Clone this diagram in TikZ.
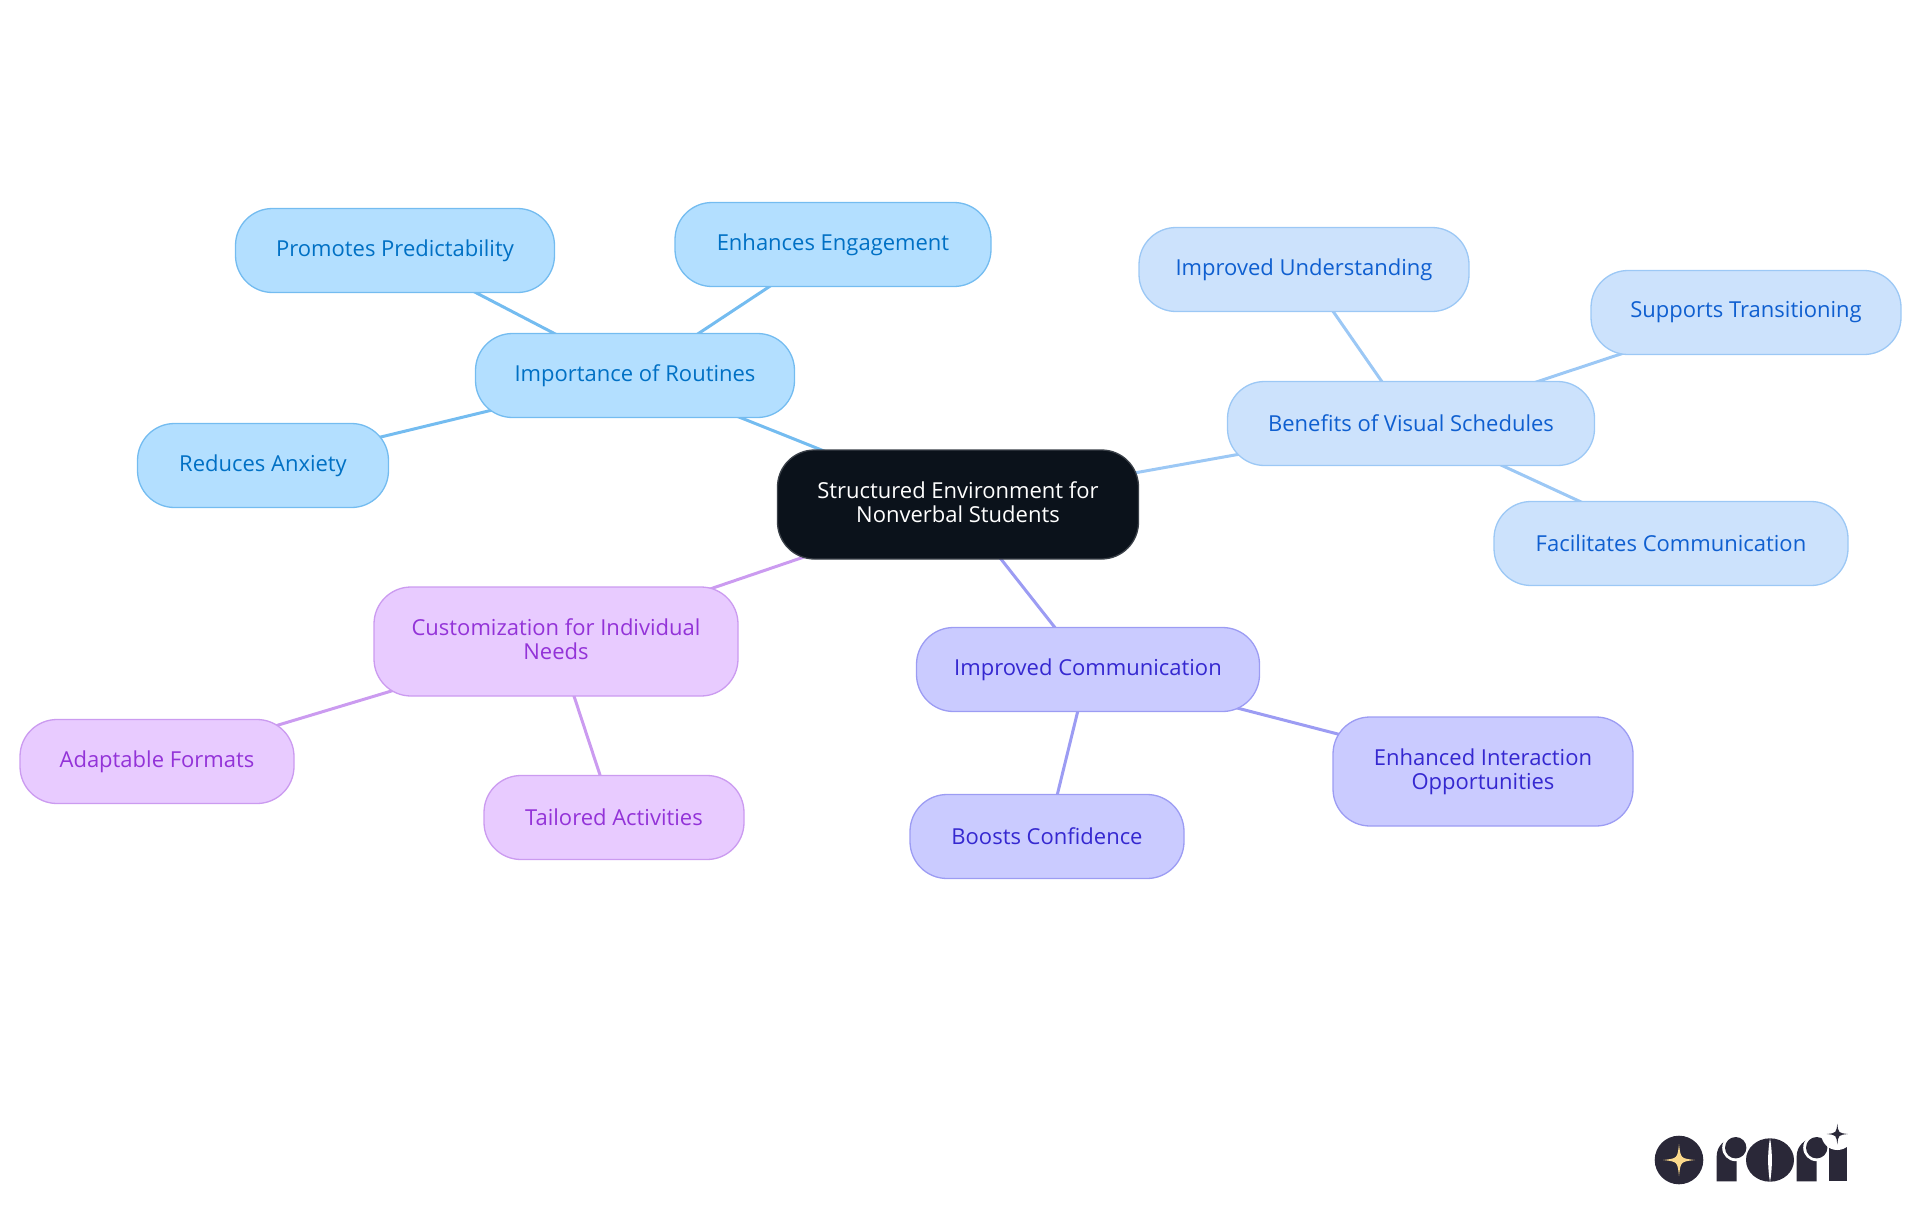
\documentclass[tikz,border=0pt]{standalone}
\usepackage{fontspec}
\setmainfont{Open Sans}
\usepackage{xcolor}
\usetikzlibrary{positioning,backgrounds}
\definecolor{rootfill}{HTML}{0B121B}
\definecolor{rootline}{HTML}{3A4048}
\definecolor{skyfill}{HTML}{B3DFFF}
\definecolor{skyline}{HTML}{74BCF0}
\definecolor{skytext}{HTML}{0070C4}
\definecolor{palefill}{HTML}{CCE2FC}
\definecolor{paleline}{HTML}{9CC8F5}
\definecolor{paletext}{HTML}{0F5FD0}
\definecolor{indigofill}{HTML}{CACBFF}
\definecolor{indigoline}{HTML}{9C9CF3}
\definecolor{indigotext}{HTML}{3528D0}
\definecolor{violetfill}{HTML}{E8CBFF}
\definecolor{violetline}{HTML}{CB9BF0}
\definecolor{violettext}{HTML}{9333D8}
\definecolor{logoink}{HTML}{2A2838}
\definecolor{logogold}{HTML}{FBD98B}
\newcommand{\logostar}[3]{%
  \fill[#3] ([shift={(0,-#2)}]#1)
    .. controls ([shift={(0.1*#2,-0.1*#2)}]#1) .. ([shift={(#2,0)}]#1)
    .. controls ([shift={(0.1*#2,0.1*#2)}]#1) .. ([shift={(0,#2)}]#1)
    .. controls ([shift={(-0.1*#2,0.1*#2)}]#1) .. ([shift={(-#2,0)}]#1)
    .. controls ([shift={(-0.1*#2,-0.1*#2)}]#1) .. cycle;}
\tikzset{
  topic/.style={rounded corners=37pt, line width=1.3pt, inner sep=0pt, minimum height=84pt, align=center, font=\fontsize{22}{24.5}\selectfont},
  tall/.style={minimum height=109pt},
  rootnode/.style={topic, tall, fill=rootfill, draw=rootline, text=white},
  sky/.style={topic, fill=skyfill, draw=skyline, text=skytext},
  pale/.style={topic, fill=palefill, draw=paleline, text=paletext},
  indigo/.style={topic, fill=indigofill, draw=indigoline, text=indigotext},
  violet/.style={topic, fill=violetfill, draw=violetline, text=violettext},
  link/.style={line width=3pt}
}
\begin{document}
\begin{tikzpicture}[x=1pt, y=-1pt]
  \useasboundingbox (0,0) rectangle (1920,1215);
  \node[rootnode, minimum width=361pt] (root) at (958,504.5) {Structured Environment for\\Nonverbal Students\\[-20pt]};
  % routines
  \node[sky, minimum width=319pt, above of=root, node distance=129pt, xshift=-323pt] (routines) {Importance of Routines};
  \node[sky, minimum width=319pt, above of=routines, node distance=125pt, xshift=-240pt] (predict) {Promotes Predictability};
  \node[sky, minimum width=316pt, above of=routines, node distance=131pt, xshift=198pt] (engage) {Enhances Engagement};
  \node[sky, minimum width=251pt, below of=routines, node distance=90pt, xshift=-372pt] (anxiety) {Reduces Anxiety};
  % schedules
  \node[pale, minimum width=367pt, above of=root, node distance=81pt, xshift=453pt] (visual) {Benefits of Visual Schedules};
  \node[pale, minimum width=330pt, above of=visual, node distance=154pt, xshift=-107pt] (understand) {Improved Understanding};
  \node[pale, minimum width=310pt, above of=visual, node distance=111pt, xshift=335pt] (transition) {Supports Transitioning};
  \node[pale, minimum width=354pt, below of=visual, node distance=120pt, xshift=260pt] (facilitate) {Facilitates Communication};
  % communication
  \node[indigo, minimum width=343pt, below of=root, node distance=165pt, xshift=130pt] (comm) {Improved Communication};
  \node[indigo, tall, minimum width=300pt, below of=comm, node distance=102pt, xshift=395pt] (interact) {Enhanced Interaction\\Opportunities\\[-20pt]};
  \node[indigo, minimum width=274pt, below of=comm, node distance=167pt, xshift=-41pt] (confidence) {Boosts Confidence};
  % customization
  \node[violet, tall, minimum width=364pt, below of=root, node distance=137pt, xshift=-402pt] (custom) {Customization for Individual\\Needs\\[-20pt]};
  \node[violet, minimum width=274pt, below of=custom, node distance=120pt, xshift=-399pt] (adapt) {Adaptable Formats};
  \node[violet, minimum width=260pt, below of=custom, node distance=176pt, xshift=58pt] (tailor) {Tailored Activities};
  \begin{scope}[on background layer]
    \draw[link, skyline] (root.center) -- (routines.center);
    \draw[link, skyline] (routines.center) -- (predict.center);
    \draw[link, skyline] (routines.center) -- (engage.center);
    \draw[link, skyline] (routines.center) -- (anxiety.center);
    \draw[link, paleline] (root.center) -- (visual.center);
    \draw[link, paleline] (visual.center) -- (understand.center);
    \draw[link, paleline] (visual.center) -- (transition.center);
    \draw[link, paleline] (visual.center) -- (facilitate.center);
    \draw[link, indigoline] (root.center) -- (comm.center);
    \draw[link, indigoline] (comm.center) -- (interact.center);
    \draw[link, indigoline] (comm.center) -- (confidence.center);
    \draw[link, violetline] (root.center) -- (custom.center);
    \draw[link, violetline] (custom.center) -- (adapt.center);
    \draw[link, violetline] (custom.center) -- (tailor.center);
  \end{scope}
  % logo
  \coordinate (badge) at (1679,1160);
  \coordinate (spark) at (1837.3,1134);
  \fill[logoink] (badge) circle (24.3pt);
  \logostar{badge}{16pt}{logogold}
  \fill[logoink] (1716.7,1181.3) -- (1716.7,1156) arc[start angle=180, end angle=90, radius=17.7pt] -- (1736.7,1138.3) -- (1736.7,1181.3) -- cycle;
  \fill[white] (1735.7,1147.7) circle (13.5pt);
  \fill[logoink] (1735.7,1147.7) circle (10.7pt);
  \fill[logoink] (1770,1160) ellipse [x radius=24pt, y radius=21.7pt];
  \fill[white] (1770,1138) .. controls (1767.5,1152) and (1767.5,1168) .. (1770,1182) .. controls (1772.5,1168) and (1772.5,1152) .. (1770,1138) -- cycle;
  \fill[logoink] (1796.7,1181.3) -- (1796.7,1156) arc[start angle=180, end angle=90, radius=17.7pt] -- (1816.7,1138.3) -- (1816.7,1181.3) -- cycle;
  \fill[white] (1816.7,1147.7) circle (13.5pt);
  \fill[logoink] (1816.7,1147.7) circle (10.7pt);
  \fill[logoink] (1829,1146.5) rectangle (1846.7,1181.3);
  \fill[white] (spark) circle (16pt);
  \logostar{spark}{10.5pt}{logoink}
\end{tikzpicture}
\end{document}
